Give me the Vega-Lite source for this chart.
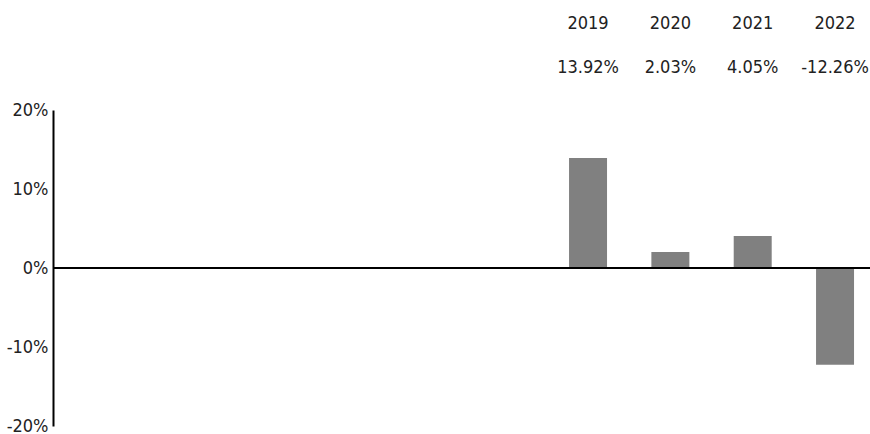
{
  "$schema": "https://vega.github.io/schema/vega-lite/v6.json",
  "width": 817,
  "height": 316,
  "autosize": {"type": "none"},
  "padding": {"left": 53, "top": 110, "right": 0, "bottom": 8},
  "background": "white",
  "config": {
    "view": {"stroke": null},
    "font": "Liberation Sans Narrow, DejaVu Sans Condensed, sans-serif"
  },
  "data": {
    "values": [
      {"header": "2019|13.92%", "value": 13.92},
      {"header": "2020|2.03%", "value": 2.03},
      {"header": "2021|4.05%", "value": 4.05},
      {"header": "2022|-12.26%", "value": -12.26}
    ]
  },
  "layer": [
    {
      "mark": {"type": "bar", "color": "#808080"},
      "encoding": {
        "x": {
          "field": "header",
          "type": "nominal",
          "sort": null,
          "scale": {
            "domain": ["2013", "2014", "2015", "2016", "2017", "2018", "2019|13.92%", "2020|2.03%", "2021|4.05%", "2022|-12.26%"],
            "paddingInner": 0.5385,
            "paddingOuter": 0.2308,
            "align": 0.58
          },
          "axis": {
            "orient": "top",
            "title": null,
            "domain": false,
            "ticks": false,
            "labelAngle": 0,
            "labelFontSize": 18,
            "labelColor": "#222222",
            "labelLineHeight": 44,
            "labelBaseline": "alphabetic",
            "labelPadding": 82,
            "labelExpr": "indexof(datum.label, '|') < 0 ? '' : split(datum.label, '|')"
          }
        },
        "y": {
          "field": "value",
          "type": "quantitative",
          "scale": {"domain": [-20, 20], "nice": false, "zero": true},
          "axis": {
            "title": null,
            "values": [-20, -10, 0, 10, 20],
            "labelExpr": "datum.value + '%'",
            "grid": false,
            "ticks": false,
            "domainColor": "black",
            "domainWidth": 2,
            "labelFontSize": 18,
            "labelColor": "#222222",
            "labelPadding": 5
          }
        }
      }
    },
    {
      "mark": {"type": "rule", "color": "black", "strokeWidth": 2},
      "encoding": {"y": {"datum": 0}}
    }
  ]
}
